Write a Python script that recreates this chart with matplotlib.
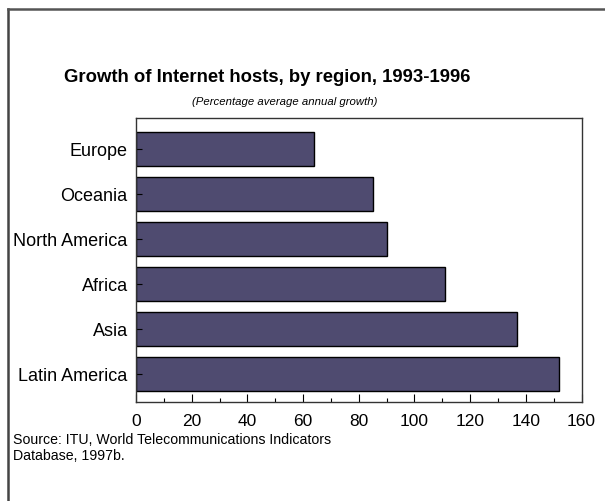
import numpy as np
import matplotlib.pyplot as plt
from matplotlib.lines import Line2D
from matplotlib.ticker import MultipleLocator

plt.rcParams['font.family'] = ['Liberation Sans', 'DejaVu Sans']

regions = ['Latin America', 'Asia', 'Africa', 'North America', 'Oceania', 'Europe']
growth = [152, 137, 111, 90, 85, 64]

fig = plt.figure(figsize=(6.05, 5.01), dpi=100)
ax = fig.add_axes([0.2248, 0.1976, 0.7364, 0.5669])

y = np.arange(len(regions))
ax.barh(y, growth, height=0.75, color='#4f4b70', edgecolor='black', linewidth=1.0)

ax.set_xlim(0, 160)
ax.set_ylim(-0.62, 5.69)
ax.set_yticks(y)
ax.set_yticklabels(regions, fontsize=13)
ax.xaxis.set_major_locator(MultipleLocator(20))
ax.xaxis.set_minor_locator(MultipleLocator(10))
ax.tick_params(axis='x', which='major', direction='in', length=6, width=0.8, labelsize=12.5, pad=8.5)
ax.tick_params(axis='x', which='minor', direction='in', length=3, width=0.8)
ax.tick_params(axis='y', direction='in', length=4, width=0.8, pad=6)
for s in ax.spines.values():
    s.set_color('#333333')
    s.set_linewidth(1.0)

fig.text(0.441, 0.845, 'Growth of Internet hosts, by region, 1993-1996',
         ha='center', va='center', fontsize=13.3, fontweight='bold')
fig.text(0.471, 0.797, '(Percentage average annual growth)',
         ha='center', va='center', fontsize=8.2, style='italic')
fig.text(0.0215, 0.136, 'Source: ITU, World Telecommunications Indicators\nDatabase, 1997b.',
         ha='left', va='top', fontsize=10.2, linespacing=1.2)

# page frame along the left and top edges
fig.add_artist(Line2D([8 / 605, 8 / 605], [0, 1 - 9 / 501], transform=fig.transFigure,
                      color='#444444', linewidth=1.8))
fig.add_artist(Line2D([8 / 605, 1], [1 - 9 / 501, 1 - 9 / 501], transform=fig.transFigure,
                      color='#555555', linewidth=1.8))

fig.savefig('out.png', dpi=100)
